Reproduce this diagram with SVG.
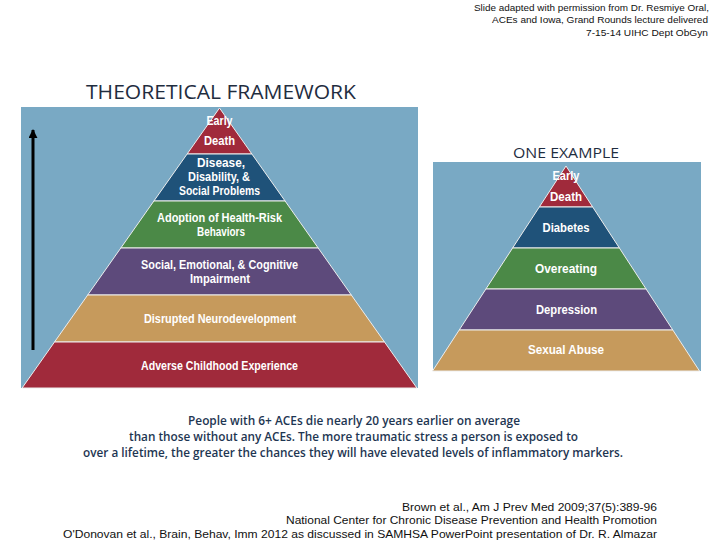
<svg xmlns="http://www.w3.org/2000/svg" width="720" height="540" viewBox="0 0 720 540">
<style>
.bg{fill:#79A9C4}
.red{fill:#A02A3B}
.blue{fill:#1F5279}
.green{fill:#4B8947}
.purple{fill:#5D4A7B}
.tan{fill:#C69A5C}
.layer{stroke:#EDEDED;stroke-width:1}
.pt{font-family:"Liberation Sans",Arial,sans-serif;font-weight:bold;font-size:12px;fill:#FFFFFF;text-anchor:middle}
.cite{font-family:"Liberation Sans",Arial,sans-serif;font-size:11.5px;fill:#111111;text-anchor:end}
.attr{font-family:"Liberation Sans",Arial,sans-serif;font-size:9.5px;fill:#111111;text-anchor:end}
.para{font-family:"Open Sans","Liberation Sans",sans-serif;font-weight:600;font-size:12px;fill:#1E3652;text-anchor:middle}
.head{font-family:"Open Sans","Liberation Sans",sans-serif;fill:#1F2D3F}
</style>
<defs>
<marker id="ah" viewBox="0 0 10 10" refX="9" refY="5" markerWidth="3" markerHeight="3" orient="auto" markerUnits="strokeWidth">
<path d="M0,0 L10,5 L0,10 z" fill="#000000"/>
</marker>
</defs>
<rect width="720" height="540" fill="#FFFFFF"/>

<g id="attribution">
<text class="attr" x="709" y="11" textLength="235" lengthAdjust="spacingAndGlyphs">Slide adapted with permission from Dr. Resmiye Oral,</text>
<text class="attr" x="708" y="23" textLength="216" lengthAdjust="spacingAndGlyphs">ACEs and Iowa, Grand Rounds lecture delivered</text>
<text class="attr" x="708" y="36" textLength="122" lengthAdjust="spacingAndGlyphs">7-15-14 UIHC Dept ObGyn</text>
</g>

<g id="title">
<text class="head" x="86" y="99" font-size="20" textLength="270" lengthAdjust="spacingAndGlyphs">THEORETICAL FRAMEWORK</text>
</g>

<g id="framework">
<rect class="bg" x="21" y="107" width="397" height="281"/>
<g id="l-early-death">
<polygon class="red layer" points="219.5,108 251.9,154 187.1,154"/>
<text class="pt" x="219.5" y="125" textLength="26" lengthAdjust="spacingAndGlyphs">Early</text>
<text class="pt" x="219.5" y="145" textLength="31" lengthAdjust="spacingAndGlyphs">Death</text>
</g>
<g id="l-disease">
<polygon class="blue layer" points="187.1,154 251.9,154 285.1,201 153.9,201"/>
<text class="pt" x="221" y="167" textLength="48" lengthAdjust="spacingAndGlyphs">Disease,</text>
<text class="pt" x="219" y="181" textLength="62" lengthAdjust="spacingAndGlyphs">Disability, &amp;</text>
<text class="pt" x="219.5" y="195" textLength="81" lengthAdjust="spacingAndGlyphs">Social Problems</text>
</g>
<g id="l-adoption">
<polygon class="green layer" points="153.9,201 285.1,201 318.2,248 120.8,248"/>
<text class="pt" x="219.5" y="222" textLength="125" lengthAdjust="spacingAndGlyphs">Adoption of Health-Risk</text>
<text class="pt" x="221" y="236" textLength="48" lengthAdjust="spacingAndGlyphs">Behaviors</text>
</g>
<g id="l-social">
<polygon class="purple layer" points="120.8,248 318.2,248 351.3,295 87.7,295"/>
<text class="pt" x="219.5" y="269" textLength="157" lengthAdjust="spacingAndGlyphs">Social, Emotional, &amp; Cognitive</text>
<text class="pt" x="220" y="283" textLength="60" lengthAdjust="spacingAndGlyphs">Impairment</text>
</g>
<g id="l-neuro">
<polygon class="tan layer" points="87.7,295 351.3,295 384.5,342 54.5,342"/>
<text class="pt" x="220" y="323" textLength="152" lengthAdjust="spacingAndGlyphs">Disrupted Neurodevelopment</text>
</g>
<g id="l-ace">
<polygon class="red layer" points="54.5,342 384.5,342 416.9,388 22.1,388"/>
<text class="pt" x="219.5" y="370" textLength="157" lengthAdjust="spacingAndGlyphs">Adverse Childhood Experience</text>
</g>
</g>

<g id="connectors">
<line x1="33" y1="350" x2="33" y2="130" stroke="#000000" stroke-width="3" marker-end="url(#ah)"/>
</g>

<g id="example">
<text class="head" x="513" y="158" font-size="14" textLength="106" lengthAdjust="spacingAndGlyphs" fill="#222222">ONE EXAMPLE</text>
<rect class="bg" x="433" y="162" width="268" height="209"/>
<g id="e-early-death">
<polygon class="red layer" points="566,166 592.7,207 539.3,207"/>
<text class="pt" x="566" y="180" textLength="27" lengthAdjust="spacingAndGlyphs">Early</text>
<text class="pt" x="566" y="201" textLength="32" lengthAdjust="spacingAndGlyphs">Death</text>
</g>
<g id="e-diabetes">
<polygon class="blue layer" points="539.3,207 592.7,207 619.4,248 512.6,248"/>
<text class="pt" x="566" y="232" textLength="47" lengthAdjust="spacingAndGlyphs">Diabetes</text>
</g>
<g id="e-overeating">
<polygon class="green layer" points="512.6,248 619.4,248 646.1,289 485.9,289"/>
<text class="pt" x="566" y="273" textLength="62" lengthAdjust="spacingAndGlyphs">Overeating</text>
</g>
<g id="e-depression">
<polygon class="purple layer" points="485.9,289 646.1,289 672.8,330 459.2,330"/>
<text class="pt" x="566.5" y="314" textLength="61" lengthAdjust="spacingAndGlyphs">Depression</text>
</g>
<g id="e-abuse">
<polygon class="tan layer" points="459.2,330 672.8,330 699.5,371 432.5,371"/>
<text class="pt" x="566" y="354" textLength="76" lengthAdjust="spacingAndGlyphs">Sexual Abuse</text>
</g>
</g>

<g id="summary">
<text class="para" x="354" y="425" textLength="332" lengthAdjust="spacingAndGlyphs">People with 6+ ACEs die nearly 20 years earlier on average</text>
<text class="para" x="353.5" y="441" textLength="449" lengthAdjust="spacingAndGlyphs">than those without any ACEs. The more traumatic stress a person is exposed to</text>
<text class="para" x="353" y="457" textLength="540" lengthAdjust="spacingAndGlyphs">over a lifetime, the greater the chances they will have elevated levels of inflammatory markers.</text>
</g>

<g id="citations">
<text class="cite" x="657" y="511" textLength="255" lengthAdjust="spacingAndGlyphs">Brown et al., Am J Prev Med 2009;37(5):389-96</text>
<text class="cite" x="657" y="524" textLength="371" lengthAdjust="spacingAndGlyphs">National Center for Chronic Disease Prevention and Health Promotion</text>
<text class="cite" x="657" y="538" textLength="594" lengthAdjust="spacingAndGlyphs">O'Donovan et al., Brain, Behav, Imm 2012 as discussed in SAMHSA PowerPoint presentation of Dr. R. Almazar</text>
</g>
</svg>
